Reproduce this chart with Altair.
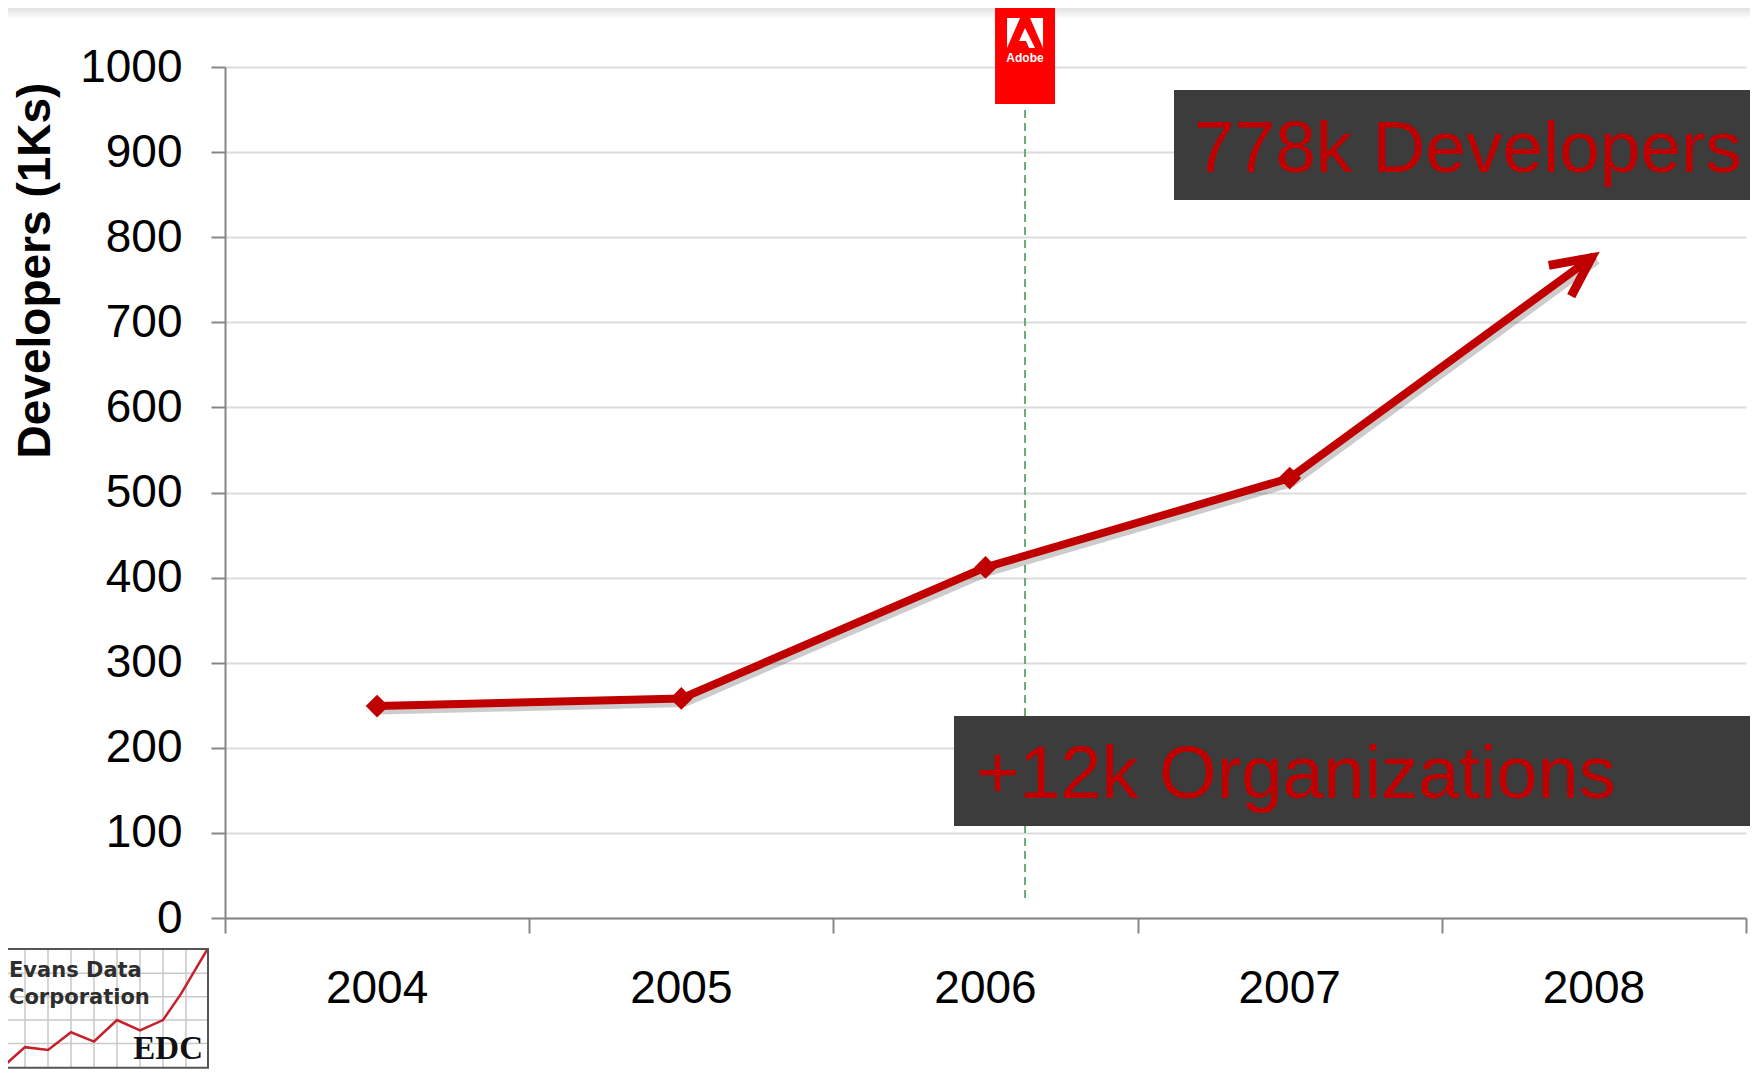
import math
import altair as alt
import pandas as pd

# ---------------- data ----------------
years = [2004, 2005, 2006, 2007, 2008]
year_labels = ["2004", "2005", "2006", "2007", "2008"]
developers_k = [249, 258, 412, 517, 778]
y_ticks = [0, 100, 200, 300, 400, 500, 600, 700, 800, 900, 1000]
x_band_edges = [2003.5, 2004.5, 2005.5, 2006.5, 2007.5, 2008.5]
adobe_event_year = [2006.13]
organizations_k = 12
annotations = [f"{developers_k[-1]}k Developers", f"+{organizations_k}k Organizations"]

# ---------------- layout ----------------
W, H = 1521, 851          # plot area
OX, OY = 225, 67          # page position of plot origin
RED = "#c00000"
GRAY = "#868686"
FONT = "Liberation Sans"


def px(x):
    return x - OX


def py(y):
    return y - OY


def path(polys, cx, cy, close=True):
    out = []
    for poly in polys:
        seg = []
        for i, (x, y) in enumerate(poly):
            seg.append(("M" if i == 0 else "L") + f" {x - cx:.1f} {y - cy:.1f}")
        out.append(" ".join(seg) + (" Z" if close else ""))
    return " ".join(out)


df = pd.DataFrame({"year": years, "dev": developers_k})
df_markers = df.iloc[:-1]
df_tip = df.iloc[-1:]
df_adobe = pd.DataFrame({"year": adobe_event_year})
df_years = pd.DataFrame({"year": years, "label": year_labels})

x_enc = alt.X(
    "year:Q",
    scale=alt.Scale(domain=[x_band_edges[0], x_band_edges[-1]], nice=False, zero=False),
    axis=alt.Axis(
        values=x_band_edges, labels=False, ticks=True, tickSize=15, tickColor=GRAY,
        tickWidth=2, domainColor=GRAY, domainWidth=2, grid=False, title=None,
    ),
)
y_enc = alt.Y(
    "dev:Q",
    scale=alt.Scale(domain=[0, 1000], nice=False),
    axis=alt.Axis(
        values=y_ticks, format="d", labelFontSize=46, labelFont=FONT, labelColor="black",
        labelPadding=29, tickSize=14, tickColor=GRAY, tickWidth=2,
        domainColor=GRAY, domainWidth=2, gridColor="#dcdcdc", gridWidth=2,
        title="Developers (1Ks)", titleFont=FONT, titleFontSize=46,
        titleFontWeight="bold", titleColor="black", titleAngle=270,
        titleX=-190, titleY=203, titleAlign="center", titleBaseline="middle",
    ),
)

# top shading of the slide
top_shade = alt.Chart(pd.DataFrame({"a": [0]})).mark_rect(
    color=alt.LinearGradient(
        gradient="linear",
        stops=[alt.GradientStop(color="#e2e2e2", offset=0), alt.GradientStop(color="#ffffff", offset=1)],
        x1=0, x2=0, y1=0, y2=1,
    )
).encode(x=alt.value(-OX + 8), x2=alt.value(W + 10), y=alt.value(-59), y2=alt.value(-48))

# dashed event line
event_rule = alt.Chart(df_adobe).mark_rule(
    color="#6fa877", strokeWidth=2, strokeDash=[8, 5]
).encode(x=x_enc, y=alt.value(py(110)), y2=alt.value(py(900)))

shadow = alt.Chart(df).mark_line(
    color="#000000", opacity=0.2, strokeWidth=9, xOffset=3, yOffset=4
).encode(x=x_enc, y=y_enc)

line = alt.Chart(df).mark_line(color=RED, strokeWidth=8).encode(x=x_enc, y=y_enc)

markers = alt.Chart(df_markers).mark_point(
    shape="diamond", filled=True, size=520, color=RED, opacity=1
).encode(x=x_enc, y=y_enc)

# arrow head direction from the last segment
dx = (years[-1] - years[-2]) * W / (x_band_edges[-1] - x_band_edges[0])
dy = (developers_k[-1] - developers_k[-2]) * H / 1000.0
arrow_angle = 90 - math.degrees(math.atan2(dy, dx))
arrow_path = "M -19 42 L 0 3 L 19 42"
arrow = alt.Chart(df_tip).mark_point(
    shape=arrow_path, size=4, filled=False, color=RED, strokeWidth=9, opacity=1,
    angle=arrow_angle, strokeJoin="miter", strokeCap="butt",
).encode(x=x_enc, y=y_enc)

# Adobe logo
adobe_box = alt.Chart(df_adobe).mark_point(
    shape="M -30 -49 L 30 -49 L 30 49 L -30 49 Z", size=4, filled=True,
    color="#ff0000", opacity=1,
).encode(x=x_enc, y=alt.value(py(55)))
adobe_a = alt.Chart(df_adobe).mark_point(
    shape=("M -18 -15 L -5 -15 L -18 15 Z "
           "M 5 -15 L 18 -15 L 18 15 Z "
           "M 0 -5 L 10 15 L 4 15 L 1 8 L -6 8 Z"),
    size=4, filled=True, color="#ffffff", opacity=1,
).encode(x=x_enc, y=alt.value(py(33)))
adobe_txt = alt.Chart(pd.DataFrame({"year": adobe_event_year, "t": ["Adobe"]})).mark_text(
    font=FONT, fontSize=12, fontWeight="bold", color="#ffffff",
    align="center", baseline="alphabetic",
).encode(x=x_enc, y=alt.value(py(62)), text="t:N")

# annotation boxes
box1 = alt.Chart(pd.DataFrame({"a": [0]})).mark_rect(color="#3c3c3c").encode(
    x=alt.value(px(1174)), x2=alt.value(W + 20), y=alt.value(py(90)), y2=alt.value(py(200)))
box2 = alt.Chart(pd.DataFrame({"a": [0]})).mark_rect(color="#3c3c3c").encode(
    x=alt.value(px(954)), x2=alt.value(W + 20), y=alt.value(py(716)), y2=alt.value(py(826)))
txt1 = alt.Chart(pd.DataFrame({"t": [annotations[0]]})).mark_text(
    font=FONT, fontSize=73, color=RED, align="left", baseline="alphabetic"
).encode(x=alt.value(px(1194)), y=alt.value(py(172)), text="t:N")
txt2 = alt.Chart(pd.DataFrame({"t": [annotations[1]]})).mark_text(
    font=FONT, fontSize=74, color=RED, align="left", baseline="alphabetic"
).encode(x=alt.value(px(976)), y=alt.value(py(798)), text="t:N")

# year labels
year_text = alt.Chart(df_years).mark_text(
    font=FONT, fontSize=46, color="black", align="center", baseline="middle"
).encode(x=x_enc, y=alt.value(py(989)), text="label:N")

# Evans Data Corporation logo (page coordinates, slightly compressed to fit)
def ly(y):
    return 949 + (y - 949) * 0.935

LCX, LCY = 105, ly(1010)
grid_polys = [[(x, ly(949)), (x, ly(1076))] for x in [25, 48, 71, 94, 117, 140, 163, 186]] + \
             [[(2, ly(y)), (208, ly(y))] for y in [975, 1000, 1025, 1050]]
logo_grid = alt.Chart(pd.DataFrame({"a": [0]})).mark_point(
    shape=path(grid_polys, LCX, LCY, close=False), size=4, filled=False,
    color="#c9c9c9", strokeWidth=1.5, opacity=1,
).encode(x=alt.value(px(LCX)), y=alt.value(py(LCY)))
zig = [(4, 1074), (25, 1054), (48, 1057), (71, 1038), (94, 1048), (117, 1025),
       (140, 1036), (163, 1025), (181, 997), (207, 950)]
logo_zig = alt.Chart(pd.DataFrame({"a": [0]})).mark_point(
    shape=path([[(x, ly(y)) for x, y in zig]], LCX, LCY, close=False), size=4,
    filled=False, color="#c8202a", strokeWidth=2.5, opacity=1,
).encode(x=alt.value(px(LCX)), y=alt.value(py(LCY)))
logo_box = alt.Chart(pd.DataFrame({"a": [0]})).mark_rect(
    fill=None, stroke="#555555", strokeWidth=2
).encode(x=alt.value(px(2)), x2=alt.value(px(208)), y=alt.value(py(949)), y2=alt.value(py(ly(1076))))
logo_t1 = alt.Chart(pd.DataFrame({"t": ["Evans Data"]})).mark_text(
    font="DejaVu Sans", fontSize=21, fontWeight=600, color="#2e2e2e", align="left", baseline="alphabetic"
).encode(x=alt.value(px(9)), y=alt.value(py(ly(979))), text="t:N")
logo_t2 = alt.Chart(pd.DataFrame({"t": ["Corporation"]})).mark_text(
    font="DejaVu Sans", fontSize=21, fontWeight=600, color="#2e2e2e", align="left", baseline="alphabetic"
).encode(x=alt.value(px(9)), y=alt.value(py(ly(1008))), text="t:N")
logo_t3 = alt.Chart(pd.DataFrame({"t": ["EDC"]})).mark_text(
    font="Liberation Serif", fontSize=33, fontWeight="bold", color="#111111",
    align="right", baseline="alphabetic"
).encode(x=alt.value(px(203)), y=alt.value(py(ly(1067))), text="t:N")

chart = alt.layer(
    top_shade, event_rule, shadow, line, markers, arrow,
    adobe_box, adobe_a, adobe_txt,
    box1, box2, txt1, txt2, year_text,
    logo_grid, logo_zig, logo_box, logo_t1, logo_t2, logo_t3,
).properties(
    width=W, height=H,
    padding={"left": OX - 8, "top": OY - 8, "right": 4, "bottom": 152},
    autosize=alt.AutoSizeParams(type="none"),
    background="white",
).configure_view(stroke=None)

chart.save("out.html", embed_options={"renderer": "svg", "actions": False})
